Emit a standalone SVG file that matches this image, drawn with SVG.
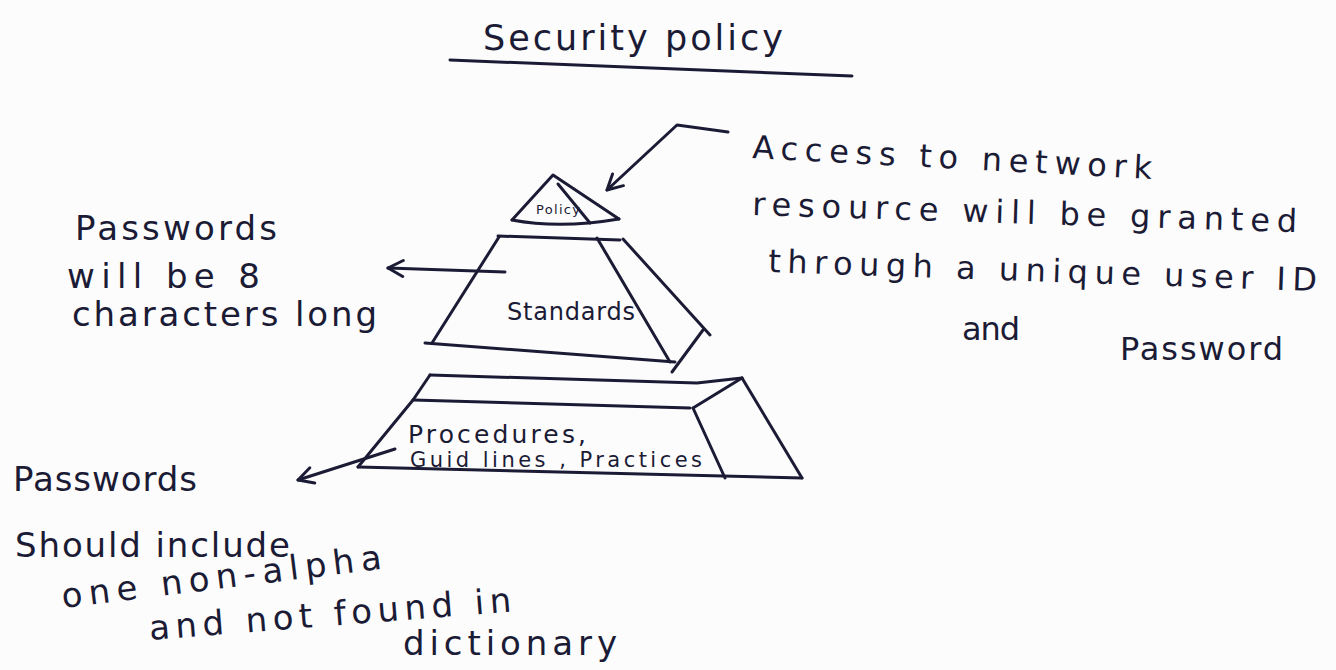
<svg xmlns="http://www.w3.org/2000/svg" width="1336" height="670" viewBox="0 0 1336 670">
<style>
.ink{fill:none;stroke:#1b1b35;stroke-width:3;stroke-linecap:round;stroke-linejoin:round}
.t{font-family:"DejaVu Sans","Liberation Sans",sans-serif;fill:#1b1b35}
.big{font-size:34px}
.note{font-size:32px}
</style>
<defs>
<marker id="ah" viewBox="0 0 20 20" refX="18" refY="10" markerWidth="20" markerHeight="20" markerUnits="userSpaceOnUse" orient="auto">
<path d="M3,2 L18,10 L3,18" fill="none" stroke="#1b1b35" stroke-width="3" stroke-linecap="round" stroke-linejoin="round"/>
</marker>
</defs>
<rect width="1336" height="670" fill="#fcfcfc"/>

<g id="title">
<text class="t" x="483" y="50" font-size="35" textLength="300" lengthAdjust="spacing">Security policy</text>
<path class="ink" d="M450,60 L852,76"/>
</g>

<g id="tier-policy">
<path class="ink" d="M512,220 L553,175 L619,219"/>
<path class="ink" d="M512,220 Q560,229 619,219"/>
<path class="ink" d="M558,184 L590,223"/>
<text class="t" x="536" y="214" font-size="13" textLength="44" lengthAdjust="spacing">Policy</text>
</g>

<g id="tier-standards">
<path class="ink" d="M498,236 L620,240"/>
<path class="ink" d="M499,237 L432,343"/>
<path class="ink" d="M425,343 L675,362"/>
<path class="ink" d="M597,238 L670,362"/>
<path class="ink" d="M623,239 L710,335"/>
<path class="ink" d="M703,330 L672,372"/>
<text class="t" x="507" y="320" font-size="24" textLength="128" lengthAdjust="spacing">Standards</text>
</g>

<g id="tier-procedures">
<path class="ink" d="M430,375 L697,383 L742,378"/>
<path class="ink" d="M413,400 L690,408"/>
<path class="ink" d="M693,408 L742,378"/>
<path class="ink" d="M430,375 L413,400 L358,467"/>
<path class="ink" d="M358,467 L802,478"/>
<path class="ink" d="M693,408 L725,478"/>
<path class="ink" d="M742,378 L802,478"/>
<text class="t" x="408" y="443" font-size="25" textLength="178" lengthAdjust="spacing">Procedures,</text>
<text class="t" x="410" y="467" font-size="21" textLength="292" lengthAdjust="spacing">Guid lines , Practices</text>
</g>

<g id="note-access">
<text class="t note" x="752" y="158" textLength="400" lengthAdjust="spacing" transform="rotate(3 752 158)">Access to network</text>
<text class="t note" x="752" y="215" textLength="545" lengthAdjust="spacing" transform="rotate(1.8 752 215)">resource will be granted</text>
<text class="t note" x="768" y="272" textLength="549" lengthAdjust="spacing" transform="rotate(2 768 272)">through a unique user ID</text>
<text class="t note" x="962" y="340" textLength="58" lengthAdjust="spacing">and</text>
<text class="t note" x="1120" y="360" textLength="163" lengthAdjust="spacing">Password</text>
</g>

<g id="note-standards">
<text class="t big" x="75" y="240" textLength="202" lengthAdjust="spacing">Passwords</text>
<text class="t big" x="67" y="288" textLength="193" lengthAdjust="spacing">will be 8</text>
<text class="t big" x="72" y="326" textLength="305" lengthAdjust="spacing">characters long</text>
</g>

<g id="note-procedures">
<text class="t big" x="13" y="491" textLength="184" lengthAdjust="spacing">Passwords</text>
<text class="t big" x="15" y="557" textLength="275" lengthAdjust="spacing">Should include</text>
<text class="t big" x="63" y="608" textLength="322" lengthAdjust="spacing" transform="rotate(-7 63 608)">one non-alpha</text>
<text class="t big" x="150" y="640" textLength="363" lengthAdjust="spacing" transform="rotate(-4.5 150 640)">and not found in</text>
<text class="t big" x="403" y="655" textLength="214" lengthAdjust="spacing">dictionary</text>
</g>

<g id="connectors">
<path class="ink" d="M728,132 L677,125 L607,190" marker-end="url(#ah)"/>
<path class="ink" d="M505,272 L388,268" marker-end="url(#ah)"/>
<path class="ink" d="M395,449 L298,480" marker-end="url(#ah)"/>
</g>
</svg>
